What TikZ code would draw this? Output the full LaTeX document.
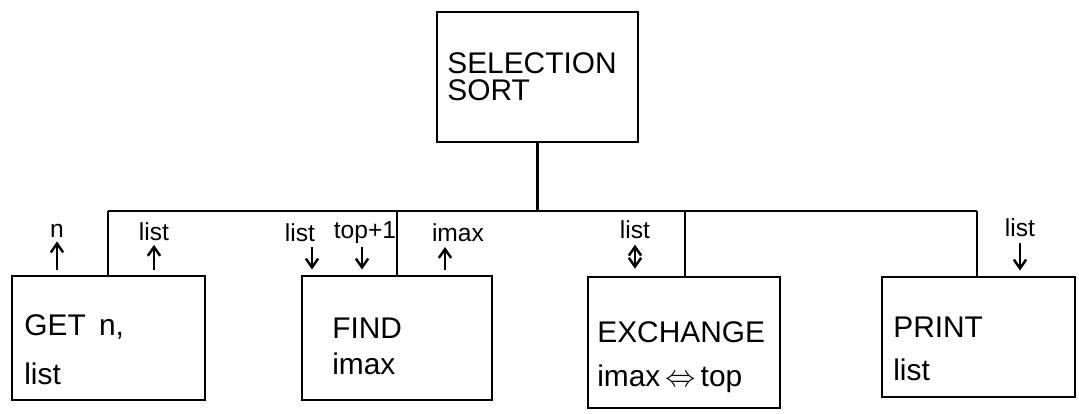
\documentclass[tikz,border=0pt]{standalone}
\usepackage{fontspec}
\setmainfont{Liberation Sans}
\usetikzlibrary{arrows.meta,calc}
\begin{document}
\begin{tikzpicture}[x=0.02cm,y=-0.02cm,
  box/.style={draw, line width=1.4pt, inner sep=0pt},
  wire/.style={line width=1.3pt},
  btext/.style={anchor=west, inner sep=0pt, font=\fontsize{17}{20}\selectfont},
  small/.style={inner sep=1pt, font=\fontsize{14}{16}\selectfont},
  arr/.style={line width=1.4pt, -{Straight Barb[length=5pt,width=7pt]}},
  darr/.style={line width=1.4pt, {Straight Barb[length=5pt,width=7pt]}-{Straight Barb[length=5pt,width=7pt]}}]
\useasboundingbox (0,0) rectangle (1079,413);
% boxes
\node[box, minimum width=4.02cm, minimum height=2.6cm] (top) at (537.5,77) {};
\node[box, minimum width=3.86cm, minimum height=2.48cm] (b1) at (108.5,338) {};
\node[box, minimum width=3.8cm, minimum height=2.48cm] (b2) at (397,338) {};
\node[box, minimum width=3.84cm, minimum height=2.62cm] (b3) at (684,342.5) {};
\node[box, minimum width=3.86cm, minimum height=2.4cm] (b4) at (978.5,337) {};
% box texts
\node[btext] (t1) at (447,63) {SELECTION};
\node[btext] (t2) at (447,90) {SORT};
\node[btext] (g1) at (24,327) {GET\, n,};
\node[btext] (g2) at (24,374) {list};
\node[btext] (f1) at (332,328) {FIND};
\node[btext] (f2) at (332,364) {imax};
\node[btext] (e1) at (597,332) {EXCHANGE};
\node[btext] (e2) at (597,379) {imax\,$\Leftrightarrow$\,top};
\node[btext] (p1) at (893,327) {PRINT};
\node[btext] (p2) at (893,370) {list};
% bus
\coordinate (busL) at (108,211);
\coordinate (j2) at (397,211);
\coordinate (j3) at (685,211);
\coordinate (busR) at (977,211);
\draw[wire] (busL) -- (busR);
\draw[wire] (top.south) -- (top.south |- busL);
\draw[wire] (busL) -- (busL |- b1.north);
\draw[wire] (j2) -- (j2 |- b2.north);
\draw[wire] (j3) -- (j3 |- b3.north);
\draw[wire] (busR) -- (busR |- b4.north);
% data labels
\node[small] (ln) at (57,231) {n};
\node[small] (ll1) at (154,232) {list};
\node[small] (ll2) at (300,233) {list};
\node[small] (lt) at (365,233) {top+1};
\node[small] (li) at (458,233) {imax};
\node[small] (ll3) at (635,230) {list};
\node[small] (ll4) at (1020,228) {list};
% data arrows
\draw[arr] ([yshift=3pt]b1.north -| ln) -- ([yshift=-1pt]ln.south);
\draw[arr] ([yshift=3pt]b1.north -| ll1) -- ([yshift=-1pt]ll1.south);
\coordinate (a2) at (312,247);
\coordinate (a3) at (362,247);
\coordinate (a4) at (445,247);
\draw[arr] (a2) -- ([yshift=3pt]b2.north -| a2);
\draw[arr] (a3) -- ([yshift=3pt]b2.north -| a3);
\draw[arr] ([yshift=3pt]b2.north -| a4) -- (a4);
\draw[darr] ([yshift=-2pt]ll3.south) -- ([yshift=4pt]b3.north -| ll3);
\draw[arr] ([yshift=-2pt]ll4.south) -- ([yshift=3pt]b4.north -| ll4);
\end{tikzpicture}
\end{document}
